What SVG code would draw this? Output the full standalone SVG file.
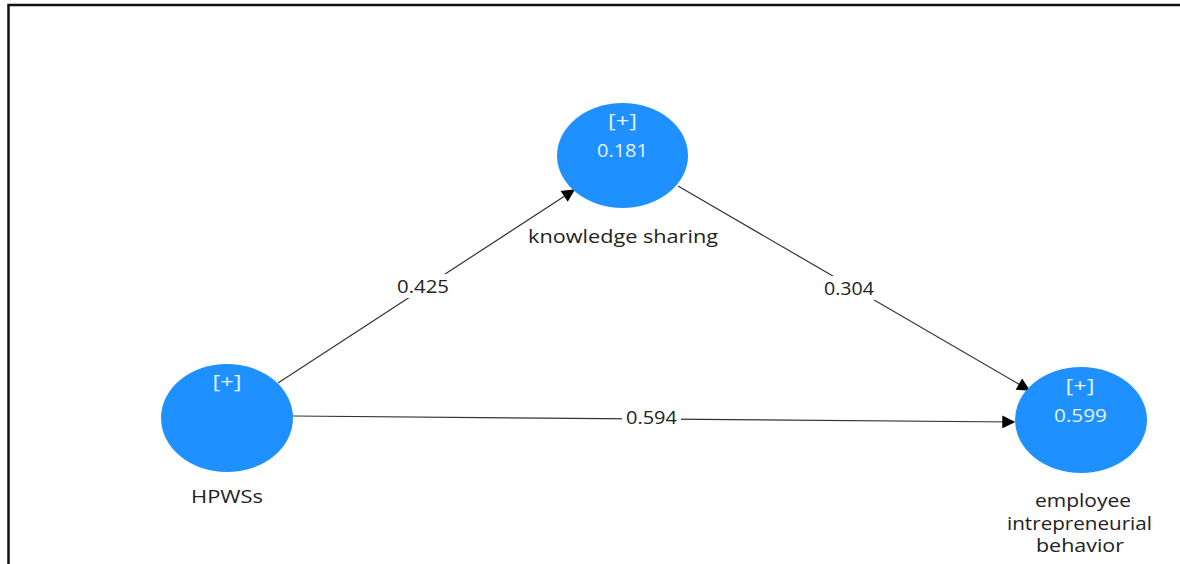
<svg xmlns="http://www.w3.org/2000/svg" width="1180" height="564" viewBox="0 0 1180 564">
  <defs>
    <marker id="arrow" viewBox="0 0 10 10" refX="9" refY="5" markerWidth="14" markerHeight="13" markerUnits="userSpaceOnUse" orient="auto">
      <path d="M0,0 L10,5 L0,10 z" fill="#000"/>
    </marker>
    <style>
      .lv { fill: #1e90ff; }
      .inner { font-family: "Open Sans", "Noto Sans", sans-serif; font-size: 18px; fill: #e8f2ff; text-anchor: middle; }
      .name { font-family: "Open Sans", "Noto Sans", sans-serif; font-size: 18px; fill: #222; text-anchor: middle; }
      .coef { font-family: "Open Sans", "Noto Sans", sans-serif; font-size: 18px; fill: #222; text-anchor: middle; }
      .edge { stroke: #333; stroke-width: 1.2; fill: none; marker-end: url(#arrow); }
      .pad { fill: #fff; }
    </style>
  </defs>
  <rect width="1180" height="564" fill="#fff"/>
  <!-- frame -->
  <path d="M8.5,564 V5 H1180" fill="none" stroke="#111" stroke-width="2.5"/>

  <g id="connectors">
    <line class="edge" x1="278" y1="383" x2="574" y2="190"/>
    <line class="edge" x1="293" y1="416" x2="1014" y2="422"/>
    <line class="edge" x1="678" y1="186" x2="1029" y2="390"/>
    <rect class="pad" x="393" y="274" width="60" height="24"/>
    <rect class="pad" x="622" y="406" width="59" height="22"/>
    <rect class="pad" x="820" y="276" width="58" height="24"/>
    <text class="coef" x="423" y="293" textLength="52" lengthAdjust="spacingAndGlyphs">0.425</text>
    <text class="coef" x="651.5" y="424" textLength="51" lengthAdjust="spacingAndGlyphs">0.594</text>
    <text class="coef" x="849" y="295" textLength="50" lengthAdjust="spacingAndGlyphs">0.304</text>
  </g>

  <g id="knowledge-sharing">
    <ellipse class="lv" cx="622.5" cy="155.5" rx="65.5" ry="52.5"/>
    <text class="inner" x="622.5" y="127" textLength="29" lengthAdjust="spacingAndGlyphs">[+]</text>
    <text class="inner" x="622.5" y="157" textLength="51" lengthAdjust="spacingAndGlyphs">0.181</text>
    <text class="name" x="623" y="243" textLength="190" lengthAdjust="spacingAndGlyphs">knowledge sharing</text>
  </g>

  <g id="hpwss">
    <ellipse class="lv" cx="227" cy="418" rx="66" ry="54"/>
    <text class="inner" x="227" y="388" textLength="29" lengthAdjust="spacingAndGlyphs">[+]</text>
    <text class="name" x="227" y="503" textLength="72" lengthAdjust="spacingAndGlyphs">HPWSs</text>
  </g>

  <g id="employee-intrepreneurial-behavior">
    <ellipse class="lv" cx="1081" cy="420" rx="66" ry="53"/>
    <text class="inner" x="1080" y="392" textLength="29" lengthAdjust="spacingAndGlyphs">[+]</text>
    <text class="inner" x="1080.5" y="422" textLength="53" lengthAdjust="spacingAndGlyphs">0.599</text>
    <text class="name" x="1083" y="507" textLength="96" lengthAdjust="spacingAndGlyphs">employee</text>
    <text class="name" x="1079.5" y="530" textLength="145" lengthAdjust="spacingAndGlyphs">intrepreneurial</text>
    <text class="name" x="1080" y="552" textLength="88" lengthAdjust="spacingAndGlyphs">behavior</text>
  </g>
</svg>
